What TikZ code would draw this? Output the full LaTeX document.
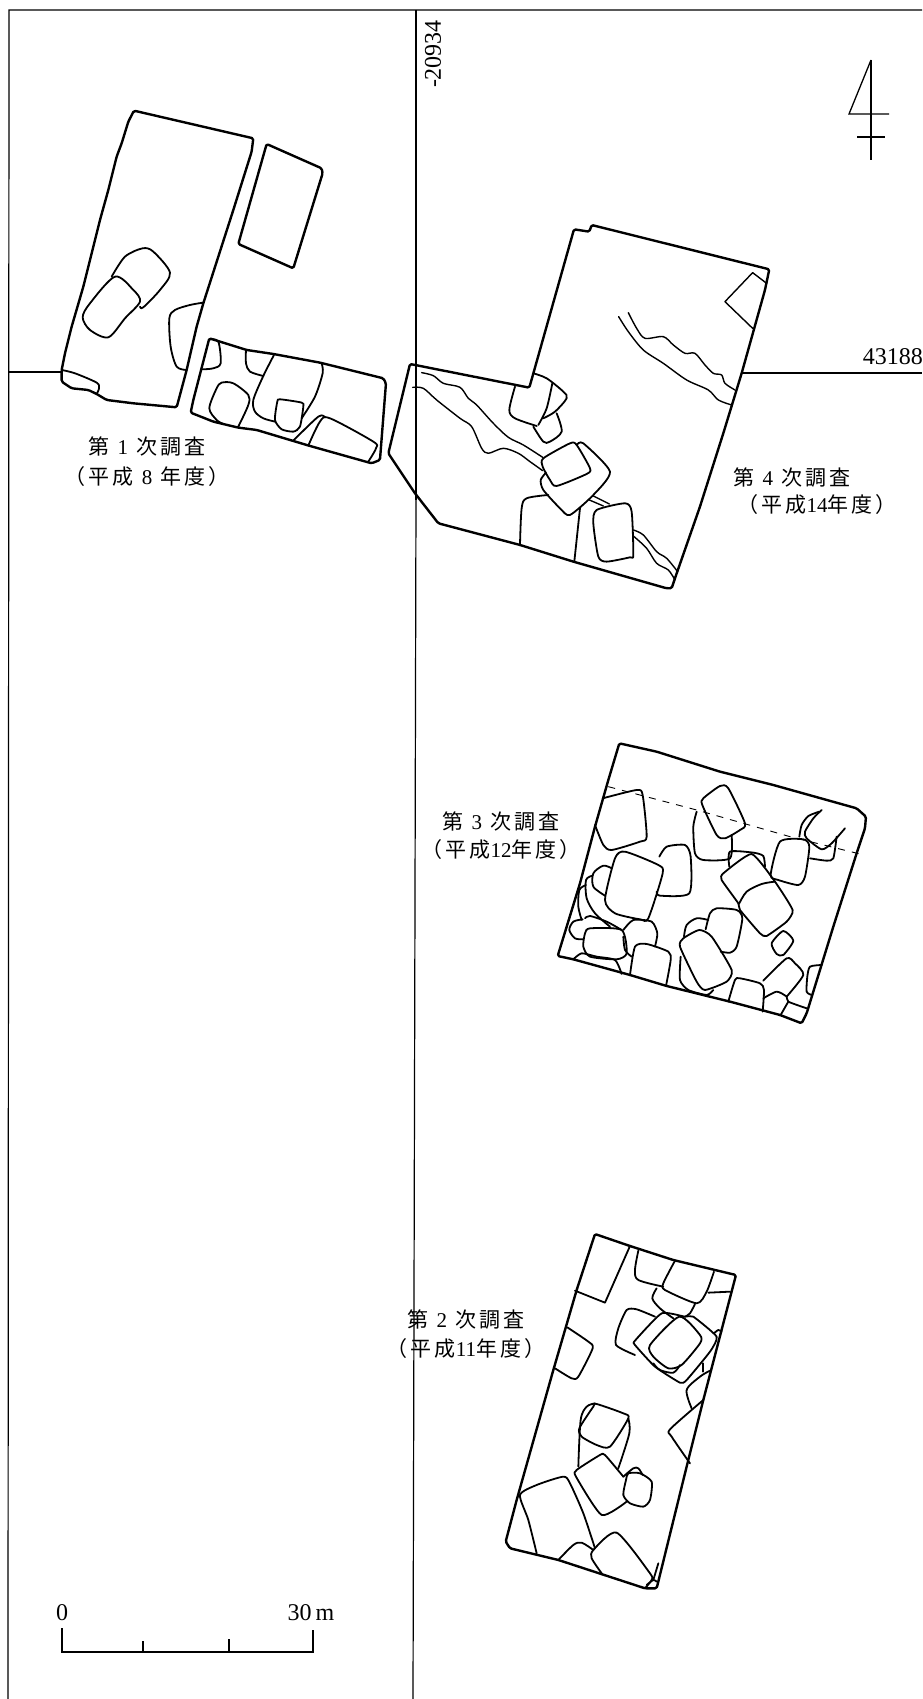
\documentclass[tikz,border=0pt]{standalone}
\usepackage{fontspec}
\setmainfont{Liberation Serif}
\newfontfamily\jpfont[LetterSpace=15]{Noto Sans CJK JP}
\newcommand{\dg}[1]{{\rmfamily #1}}
\newcommand{\dgw}[1]{\kern8pt{\rmfamily #1}\kern8pt}
\tikzset{
  plan/.style={shift={(#1)},x=0.3333pt,y=-0.3333pt},
  gridline/.style={line width=1.2pt},
  trench/.style={line width=2.4pt,line join=round,rounded corners=1.5pt},
  stone/.style={line width=1.8pt,line join=round,line cap=round},
  stream/.style={stone,line width=1.4pt},
  surveylabel/.style={font=\jpfont\fontsize{21}{21}\selectfont,inner sep=0pt},
  numlabel/.style={font=\fontsize{24}{24}\selectfont,inner sep=0pt},
}
\begin{document}
\begin{tikzpicture}[x=1pt,y=-1pt]
    \useasboundingbox (0,0) rectangle (922,1699);

    % Grid lines
    \draw[gridline] (922,10) -- (9,10) -- (8,1699);
    \draw[gridline] (416,10) -- (416,500);
    \draw[gridline] (416,495) -- (413,1699);
    \draw[gridline] (9,372) -- (62,372);
    \draw[gridline] (742,373) -- (922,373);
    \node[numlabel,rotate=90] (gridx) at (433,54) {-20934};
    \node[numlabel,anchor=east] (gridy) at (923,357) {43188};

    % North mark
    \draw[line width=1.3pt] (871,60) -- (849,114) -- (889,114);
    \draw[line width=1.3pt] (871,60) -- (871,160);
    \draw[line width=1.3pt] (857,137) -- (885,137);

    % First survey
    \begin{scope}[plan={0,80}]
    \draw[trench] (402,92) -- (760,175) -- (755,215) -- (700,390) -- (610,670) -- (590,740) -- (560,870) -- (530,982) -- (400,970) -- (320,960) -- (290,942) -- (265,930) -- (215,925) -- (185,905) -- (185,870) -- (195,820) -- (215,740) -- (250,620) -- (285,480) -- (300,420) -- (325,330) -- (350,230) -- (365,190) -- (385,125) -- cycle;
    \draw[stone] plot[smooth,tension=.5] coordinates {(185,870) (225,880) (290,908) (297,925) (290,942)};
    \draw[stone] plot[smooth,tension=.5] coordinates {(335,590) (375,530) (428,505) (460,515) (510,578) (480,630) (430,682) (420,680)};
    \draw[stone] plot[smooth cycle,tension=.5] coordinates {(345,590) (400,630) (420,665) (375,715) (325,772) (270,750) (248,712) (270,670)};
    \draw[stone] plot[smooth,tension=.5] coordinates {(610,668) (570,675) (525,690) (508,715) (512,800) (530,860) (560,870)};
    \draw[trench] (800,192) -- (965,265) -- (968,280) -- (880,565) -- (715,492) -- cycle;
    \draw[trench] (628,775) -- (740,810) -- (820,822) -- (960,848) -- (1150,895) -- (1158,910) -- (1140,1140) -- (1115,1150) -- (930,1098) -- (770,1050) -- (715,1043) -- (640,1025) -- (572,998) -- (580,960) -- cycle;
    \draw[stone] plot[smooth,tension=.5] coordinates {(628,778) (655,785) (662,850) (640,865) (608,868)};
    \draw[stone] plot[smooth,tension=.5] coordinates {(738,810) (738,850) (750,875) (790,888)};
    \draw[stone] plot[smooth,tension=.5] coordinates {(822,825) (790,888) (760,960) (765,995) (790,1015) (825,1025)};
    \draw[stone] plot[smooth,tension=.5] coordinates {(965,850) (968,880) (945,950) (905,1015)};
    \draw[stone] plot[smooth cycle,tension=.4] coordinates {(840,958) (905,968) (910,980) (900,1040) (880,1055) (845,1048) (825,1020) (832,965)};
    \draw[stone] plot[smooth,tension=.5] coordinates {(880,1082) (955,1010) (975,1012)};
    \draw[stone] plot[smooth,tension=.5] coordinates {(925,1097) (960,1025) (990,1015) (1120,1085) (1128,1105) (1105,1145)};
    \draw[stone] plot[smooth,tension=.5] coordinates {(715,1040) (745,975) (745,945) (700,910) (665,908) (650,925) (628,985) (650,1020) (670,1032)};
    \end{scope}
    \node[surveylabel] (first) at (147,447) {第\dgw{1}次調査};
    \node[surveylabel] (firsty) at (147,477) {（平成\dgw{8}年度）};

    % Fourth survey
    \begin{scope}[plan={380,200}]
    \draw[trench] (448,563) -- (582,88) -- (628,95) -- (635,75) -- (1168,208) -- (1155,270) -- (1085,520) -- (1030,700) -- (960,920) -- (885,1135) -- (875,1165) -- (860,1165) -- (580,1085) -- (420,1035) -- (175,970) -- (105,880) -- (25,760) -- (90,492) -- cycle;
    \draw[stream] (1160,250) -- (1118,218) -- (1035,305) -- (1118,385);
    \draw[stream] plot[smooth,tension=.5] coordinates {(745,338) (770,385) (795,415) (850,410) (880,435) (915,460) (945,460) (975,495) (1000,520) (1025,525) (1035,550) (1065,570)};
    \draw[stream] plot[smooth,tension=.5] coordinates {(716,350) (745,395) (790,450) (850,490) (920,540) (985,570) (1015,600) (1055,615)};
    \draw[stream] plot[smooth,tension=.5] coordinates {(125,518) (160,527) (190,550) (240,562) (265,595) (290,615) (340,670) (385,712) (430,735) (488,772)};
    \draw[stream] plot[smooth,tension=.5] coordinates {(98,562) (130,565) (170,600) (240,655) (275,680) (305,745) (325,760) (370,745) (415,760) (450,785) (488,812)};
    \draw[stone] plot[smooth,tension=.5] coordinates {(460,520) (500,535) (550,575) (560,595) (525,635) (490,655)};
    \draw[stone] plot[smooth,tension=.5] coordinates {(517,550) (500,625) (475,675)};
    \draw[stone] plot[smooth,tension=.5] coordinates {(405,560) (388,630) (405,655) (470,678)};
    \draw[stone] plot[smooth,tension=.5] coordinates {(460,680) (490,725) (510,725) (545,695) (530,640)};
    \draw[stone] plot[smooth cycle,tension=.4] coordinates {(490,775) (570,730) (590,735) (630,805) (620,822) (530,858) (510,840) (488,800)};
    \draw[stone] plot[smooth,tension=.4] coordinates {(590,735) (610,730) (690,815) (640,885) (570,945) (540,925) (490,870) (482,840) (498,818)};
    \draw[stone] plot[smooth,tension=.5] coordinates {(420,1035) (425,925) (440,895) (505,885)};
    \draw[stone] (600,925) -- (583,1085);
    \draw[stone] plot[smooth cycle,tension=.4] coordinates {(650,930) (735,910) (755,935) (760,1065) (750,1072) (680,1085) (655,1070) (640,970)};
    \draw[stream] (628,900) -- (670,918);
    \draw[stream] (640,888) -- (688,912);
    \draw[stream] plot[smooth,tension=.5] coordinates {(760,990) (790,1005) (830,1055) (860,1075) (893,1115)};
    \draw[stream] plot[smooth,tension=.5] coordinates {(760,1008) (800,1045) (830,1090) (865,1110) (885,1140)};
    \end{scope}
    \node[surveylabel] (fourth) at (792,478) {第\dgw{4}次調査};
    \node[surveylabel] (fourthy) at (817,505) {（平成\dg{14}年度）};

    % Third survey
    \begin{scope}[plan={540,730}]
    \draw[trench] (238,40) -- (350,65) -- (540,125) -- (700,165) -- (950,235) -- (978,260) -- (975,295) -- (950,370) -- (880,590) -- (800,850) -- (785,880) -- (720,855) -- (570,815) -- (380,768) -- (270,735) -- (100,688) -- (53,678) -- (120,460) -- (165,290) -- (205,150) -- cycle;
    \draw[dash pattern=on 7pt off 7pt,line width=0.9pt] (205,170) -- (470,240) -- (750,320) -- (960,372);
    \draw[stone] plot[smooth,tension=.4] coordinates {(188,205) (290,180) (308,195) (320,320) (300,335) (215,360) (190,345) (165,285)};
    \draw[stone] plot[smooth cycle,tension=.4] coordinates {(490,205) (540,168) (565,175) (615,280) (600,300) (555,325) (530,315) (487,225)};
    \draw[stone] plot[smooth,tension=.4] coordinates {(470,245) (460,290) (465,370) (490,390) (570,385) (575,315)};
    \draw[stone] plot[smooth,tension=.4] coordinates {(845,240) (820,265) (795,305) (800,325) (845,358) (875,340) (915,295)};
    \draw[stone] plot[smooth,tension=.4] coordinates {(838,245) (805,258) (785,285) (778,320)};
    \draw[stone] plot[smooth,tension=.4] coordinates {(890,320) (880,385) (860,392) (810,385)};
    \draw[stone] plot[smooth cycle,tension=.4] coordinates {(720,335) (790,328) (808,350) (795,440) (775,465) (715,450) (692,435)};
    \draw[stone] plot[smooth,tension=.4] coordinates {(568,410) (570,365) (640,368) (670,378) (675,410)};
    \draw[stone] plot[smooth cycle,tension=.3] coordinates {(635,372) (705,455) (758,540) (740,575) (680,618) (660,610) (600,540) (595,520) (545,450) (550,430)};
    \draw[stone] plot[smooth,tension=.5] coordinates {(597,522) (620,485) (665,462) (705,455)};
    \draw[stone] plot[smooth cycle,tension=.4] coordinates {(695,640) (730,603) (760,632) (730,675) (710,672)};
    \draw[stone] plot[smooth cycle,tension=.4] coordinates {(255,365) (355,405) (368,430) (325,565) (300,568) (225,550) (195,510) (225,385)};
    \draw[stone] plot[smooth,tension=.4] coordinates {(358,380) (380,350) (435,345) (452,380) (448,490) (360,497) (350,485)};
    \draw[stone] plot[smooth,tension=.5] coordinates {(215,415) (190,407) (160,430) (160,470) (195,497)};
    \draw[stone] plot[smooth,tension=.5] coordinates {(158,437) (138,450) (140,505) (165,550) (210,590)};
    \draw[stone] plot[smooth,tension=.5] coordinates {(138,465) (118,480) (115,530) (125,570)};
    \draw[stone] plot[smooth,tension=.5] coordinates {(128,568) (100,575) (88,600) (105,625) (130,628)};
    \draw[stone] plot[smooth,tension=.5] coordinates {(135,565) (150,558) (200,575) (245,600)};
    \draw[stone] plot[smooth cycle,tension=.4] coordinates {(150,595) (245,600) (260,670) (230,688) (150,680) (130,650) (135,610)};
    \draw[stone] plot[smooth,tension=.4] coordinates {(250,600) (280,570) (335,575) (352,610) (345,650)};
    \draw[stone] plot[smooth,tension=.5] coordinates {(250,620) (255,660) (275,680)};
    \draw[stone] plot[smooth,tension=.4] coordinates {(270,735) (285,650) (320,642) (385,665) (392,690) (378,768)};
    \draw[stone] plot[smooth,tension=.4] coordinates {(100,688) (125,670) (170,680) (225,690) (245,732)};
    \draw[stone] plot[smooth,tension=.5] coordinates {(505,570) (470,565) (440,585) (432,620)};
    \draw[stone] plot[smooth,tension=.4] coordinates {(497,598) (510,550) (530,535) (590,540) (607,565) (590,650) (570,668) (542,665)};
    \draw[stone] plot[smooth cycle,tension=.35] coordinates {(478,600) (515,620) (575,720) (560,755) (495,780) (470,755) (420,650) (430,625)};
    \draw[stone] plot[smooth,tension=.4] coordinates {(422,680) (420,750) (445,780) (500,795) (520,780)};
    \draw[stone] plot[smooth,tension=.4] coordinates {(565,815) (585,750) (600,745) (660,760) (672,780) (668,845)};
    \draw[stone] plot[smooth,tension=.4] coordinates {(670,752) (740,685) (765,700) (790,735) (740,800)};
    \draw[stone] plot[smooth,tension=.4] coordinates {(670,805) (710,785) (740,800) (745,815) (800,835)};
    \draw[stone] (745,815) -- (722,855);
    \draw[stone] plot[smooth,tension=.4] coordinates {(845,705) (810,710) (802,740) (800,785) (815,795)};
    \end{scope}
    \node[surveylabel] (third) at (501,822) {第\dgw{3}次調査};
    \node[surveylabel] (thirdy) at (501,850) {（平成\dg{12}年度）};

    % Second survey
    \begin{scope}[plan={490,1220}]
    \draw[trench] (315,42) -- (420,78) -- (550,120) -- (738,165) -- (700,310) -- (640,540) -- (590,740) -- (500,1105) -- (465,1105) -- (205,1020) -- (60,985) -- (47,965) -- (80,840) -- (190,450) -- (260,210) -- cycle;
    \draw[stone] (420,78) -- (345,248) -- (255,212);
    \draw[stone] plot[smooth,tension=.5] coordinates {(445,92) (435,150) (445,180) (520,200)};
    \draw[stone] plot[smooth,tension=.4] coordinates {(555,122) (520,190) (525,210) (620,250) (650,215) (672,155)};
    \draw[stone] plot[smooth,tension=.5] coordinates {(655,218) (720,215)};
    \draw[stone] plot[smooth,tension=.5] coordinates {(500,205) (487,235) (510,265) (550,295)};
    \draw[stone] plot[smooth,tension=.5] coordinates {(615,252) (600,280) (585,290)};
    \draw[stone] plot[smooth,tension=.4] coordinates {(495,290) (440,268) (410,270) (385,325) (378,375) (435,405)};
    \draw[stone] plot[smooth cycle,tension=.3] coordinates {(515,280) (435,362) (435,375) (495,440) (570,488) (590,480) (660,395) (680,350) (610,290) (585,290)};
    \draw[stone] plot[smooth cycle,tension=.4] coordinates {(568,290) (630,345) (630,370) (575,435) (535,445) (490,410) (480,375)};
    \draw[stone] plot[smooth,tension=.5] coordinates {(490,430) (510,450) (550,458) (570,435)};
    \draw[stone] plot[smooth,tension=.5] coordinates {(672,340) (685,330) (695,335)};
    \draw[stone] (640,430) -- (640,455);
    \draw[stone] plot[smooth,tension=.5] coordinates {(660,452) (630,470) (590,510) (605,565)};
    \draw[stone] plot[smooth,tension=.4] coordinates {(640,540) (540,628) (545,650) (600,730)};
    \draw[stone] plot[smooth,tension=.4] coordinates {(232,322) (295,365) (308,385) (265,470) (245,475) (195,445)};
    \draw[stone] plot[smooth cycle,tension=.4] coordinates {(320,552) (400,580) (415,595) (360,680) (320,675) (275,650) (268,625) (310,560)};
    \draw[stone] plot[smooth,tension=.5] coordinates {(315,550) (290,560) (272,600) (265,740)};
    \draw[stone] plot[smooth,tension=.5] coordinates {(415,595) (418,640) (385,745)};
    \draw[stone] plot[smooth,tension=.35] coordinates {(410,845) (335,885) (258,770) (260,750) (330,705) (345,705) (400,770)};
    \draw[stone] plot[smooth,tension=.5] coordinates {(400,770) (430,745) (445,745) (458,765)};
    \draw[stone] plot[smooth cycle,tension=.4] coordinates {(415,760) (450,760) (485,785) (480,840) (460,860) (420,850) (400,825) (408,780)};
    \draw[stone] plot[smooth,tension=.4] coordinates {(315,985) (280,880) (240,790) (220,770) (140,795) (90,825) (115,900) (140,1000)};
    \draw[stone] plot[smooth,tension=.5] coordinates {(205,1020) (250,975) (275,968) (310,990)};
    \draw[stone] plot[smooth,tension=.4] coordinates {(335,1060) (305,1015) (310,990) (380,938) (480,1060) (485,1080) (465,1105)};
    \draw[stone] plot[smooth,tension=.5] coordinates {(470,1095) (490,1080) (500,1085)};
    \draw[stone] (505,1030) -- (490,1080);
    \end{scope}
    \node[surveylabel] (second) at (466,1320) {第\dgw{2}次調査};
    \node[surveylabel] (secondy) at (466,1349) {（平成\dg{11}年度）};

    % Scale bar
    \draw[line width=1.4pt] (62,1628) -- (62,1652) -- (313,1652) -- (313,1630);
    \draw[line width=1.4pt] (143,1652) -- (143,1641);
    \draw[line width=1.4pt] (229,1652) -- (229,1639);
    \node[numlabel] (zero) at (62,1613) {0};
    \node[numlabel] (thirty) at (311,1613) {30\,m};

\end{tikzpicture}
\end{document}
